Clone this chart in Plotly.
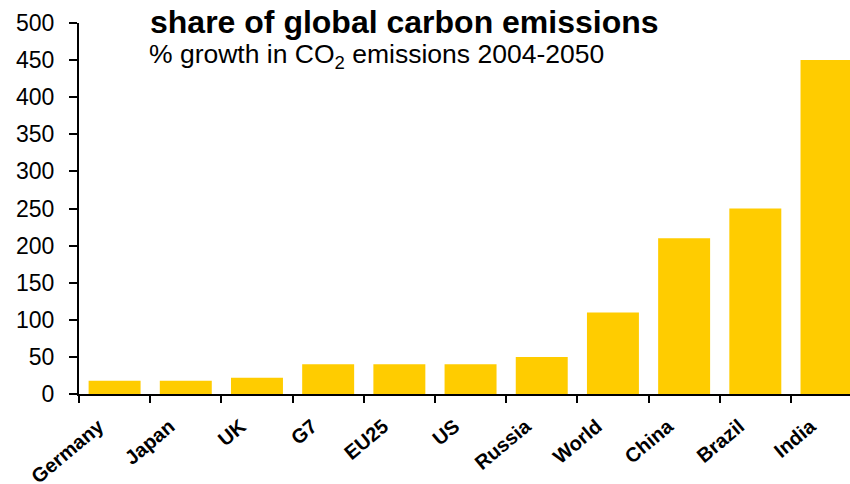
import plotly.graph_objects as go

# Projected growth in CO2 emissions, 2004-2050 (%)
countries = ["Germany", "Japan", "UK", "G7", "EU25", "US", "Russia",
             "World", "China", "Brazil", "India"]
growth_pct = [18, 18, 22, 40, 40, 40, 50, 110, 210, 250, 450]

y_ticks = list(range(0, 501, 50))

FONT = "Liberation Sans, Arial, sans-serif"
BAR_COLOR = "#FFCC00"

W, H = 850, 484
L, R, T, B = 79, 0, 23, 90
plot_h = H - T - B

fig = go.Figure(
    go.Bar(
        x=countries,
        y=growth_pct,
        marker=dict(color=BAR_COLOR, line=dict(width=0)),
        width=0.73,
    )
)


def py(px):
    """Convert a pixel row (from top of page) to paper y."""
    return 1 - (px - T) / plot_h


def px_x(px):
    return (px - L) / (W - L - R)


fig.add_annotation(
    text="<b>share of global carbon emissions</b>",
    xref="paper", yref="paper",
    x=px_x(148), y=py(22), xanchor="left", yanchor="middle",
    showarrow=False, font=dict(family=FONT, size=32, color="black"),
)
fig.add_annotation(
    text="% growth in CO<sub>2</sub> emissions 2004-2050",
    xref="paper", yref="paper",
    x=px_x(147), y=py(56), xanchor="left", yanchor="middle",
    showarrow=False, font=dict(family=FONT, size=26.5, color="black"),
)

fig.update_layout(
    width=W, height=H,
    margin=dict(l=L, r=R, t=T, b=B),
    paper_bgcolor="white", plot_bgcolor="white",
    showlegend=False,
    font=dict(family=FONT, color="black"),
    xaxis=dict(
        type="category",
        range=[-0.5, 10.33],
        automargin=False,
        tickson="boundaries",
        ticks="outside", ticklen=7, tickwidth=2, tickcolor="black",
        showline=True, linecolor="black", linewidth=2,
        showgrid=False, zeroline=False,
        tickangle=-40,
        ticklabelstandoff=11,
        ticklabelshift=-16,
        tickfont=dict(family=FONT, size=20, color="black", weight="bold"),
    ),
    yaxis=dict(
        range=[0, 500],
        tickvals=y_ticks,
        automargin=False,
        ticks="outside", ticklen=8, tickwidth=1.5, tickcolor="black",
        showline=True, linecolor="black", linewidth=2,
        showgrid=False, zeroline=False,
        ticklabelstandoff=10,
        tickfont=dict(family=FONT, size=23, color="black"),
    ),
)

fig.write_html("out.html")
